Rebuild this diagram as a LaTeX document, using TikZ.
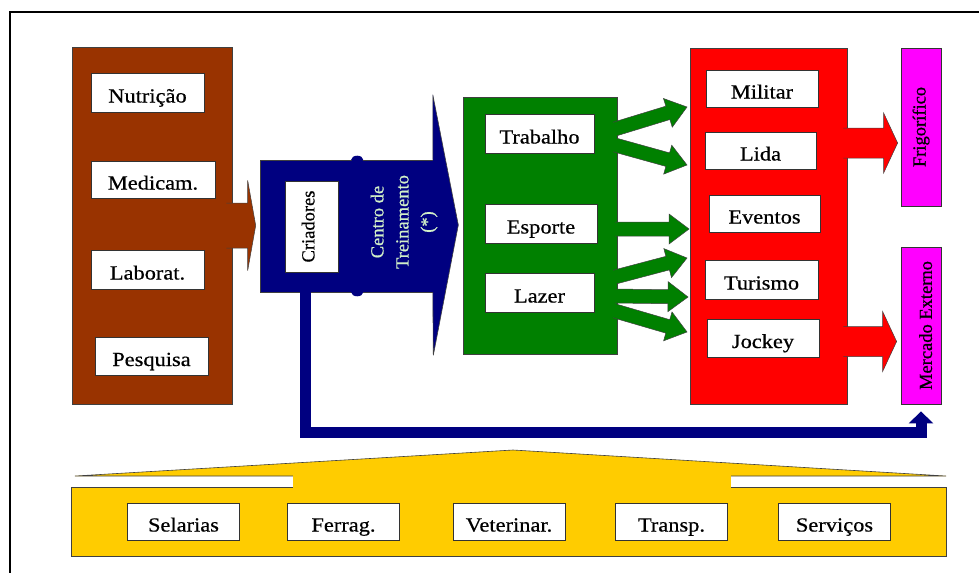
\documentclass[tikz,border=0pt]{standalone}
\usepackage{fontspec}
\setmainfont{Liberation Serif}
\newfontfamily\boxfont[FakeStretch=1.12,FakeBold=0.6]{Liberation Serif}
\newfontfamily\sidefont[FakeBold=0.6]{Liberation Serif}
\usepackage{graphicx}
\usepackage{xcolor}
\usepackage{tikz}
\usetikzlibrary{positioning,arrows.meta,calc}

\definecolor{insumo}{HTML}{993300}
\definecolor{criacao}{HTML}{000080}
\definecolor{preparo}{HTML}{008000}
\definecolor{usos}{HTML}{FF0000}
\definecolor{destino}{HTML}{FF00FF}
\definecolor{apoio}{HTML}{FFCC00}
\definecolor{centrotxt}{HTML}{D2F0C8}

\tikzset{
  panel/.style={draw=black!75, line width=0.6pt, inner sep=0pt},
  item/.style={draw=black!80, fill=white, line width=0.8pt, inner sep=0pt,
    font=\boxfont\fontsize{20pt}{22pt}\selectfont, text height=20pt, text depth=0pt},
  vitem/.style={draw=black!80, line width=0.8pt, inner sep=0pt,
    font=\sidefont\fontsize{18.5pt}{20pt}\selectfont},
}

% block arrow: fill, from, to, half shaft, half head, head length
\newcommand{\fatarrow}[6]{%
  \filldraw[fill=#1, draw=black!75, line width=0.5pt, line join=miter]
    let \p1=(#2), \p2=(#3), \n1={atan2(\y2-\y1,\x2-\x1)}, \n2={veclen(\x2-\x1,\y2-\y1)} in
    ([shift={(\p1)},rotate=\n1]0pt,#4) -- ([shift={(\p1)},rotate=\n1]{\n2-#6},#4)
    -- ([shift={(\p1)},rotate=\n1]{\n2-#6},#5) -- ([shift={(\p1)},rotate=\n1]\n2,0pt)
    -- ([shift={(\p1)},rotate=\n1]{\n2-#6},-#5) -- ([shift={(\p1)},rotate=\n1]{\n2-#6},-#4)
    -- ([shift={(\p1)},rotate=\n1]0pt,-#4);}

\begin{document}
\begin{tikzpicture}[x=1pt, y=-1pt]
\useasboundingbox (0,0) rectangle (979,573);
% frame
\draw[line width=2pt] (979,12) -- (10,12) -- (10,573);

% insumos
\node[panel, fill=insumo, minimum width=160pt, minimum height=357pt] (insumos) at (152,225.5) {};
\node[item, minimum width=113pt, minimum height=39pt] (nutri) at (147.5,92.5) {Nutrição};
\node[item, minimum width=124pt, minimum height=37pt] (medic) at (153,179.5) {Medicam.};
\node[item, minimum width=113pt, minimum height=39pt] (labor) at (147.5,269.5) {Laborat.};
\node[item, minimum width=113pt, minimum height=38pt] (pesq) at (151.5,356) {Pesquisa};

% criadores / centro de treinamento
\node[panel, fill=criacao, minimum width=173pt, minimum height=132pt] (treino) at (346.5,226) {};
\coordinate (ttip) at ($(treino.east)+(25,-1)$);
\filldraw[fill=criacao, draw=black!75, line width=0.6pt] ([xshift=-0.5pt]treino.north east) -- ++(0,-65)
  -- (ttip) -- ($(treino.south east)+(0,63)$) -- ([xshift=-0.5pt]treino.south east);
\fill[criacao] ([xshift=97.5pt]treino.north west) ellipse (6pt and 4pt);
\fill[criacao] ([xshift=97.5pt]treino.south west) ellipse (6pt and 4pt);
\node[vitem, fill=white, minimum width=53pt, minimum height=91pt] (criad) at (311.5,226.5)
  {\rotatebox{90}{Criadores\rule[-7pt]{0pt}{12pt}}};
\node[rotate=90, text=centrotxt, align=center, font=\sidefont\fontsize{18.5pt}{25pt}\selectfont] (centro)
  at (404,222) {Centro de\\Treinamento\\(*)};

% insumos -> criadores
\coordinate (bt) at ([xshift=-4pt]treino.west |- insumos.east);
\fatarrow{insumo}{$(insumos.east)+(-6,0)$}{bt}{22.5pt}{45pt}{8pt}

% feed line to mercado externo
\node[vitem, fill=destino, minimum width=40pt, minimum height=158pt] (frigo) at (921,127)
  {\rotatebox{90}{Frigorífico}};
\node[vitem, fill=destino, minimum width=40pt, minimum height=157pt] (merc) at (921,325.5)
  {\rotatebox{90}{Mercado Externo\rule{0pt}{22pt}}};
\draw[criacao, line width=11pt, -{Triangle[width=24pt,length=12pt]}]
  ([xshift=46pt]treino.south west) |- ([yshift=-28pt]merc.south) -- ([yshift=-7pt]merc.south);

% modalidades
\node[panel, fill=preparo, minimum width=154pt, minimum height=257pt] (work) at (540,225.5) {};
\node[item, minimum width=109pt, minimum height=39pt] (trab) at (539.5,133.5) {Trabalho};
\node[item, minimum width=112pt, minimum height=39pt] (esp) at (541,223.5) {Esporte};
\node[item, minimum width=109pt, minimum height=39pt] (lazer) at (539.5,292.5) {Lazer};

% usos
\node[panel, fill=usos, minimum width=157pt, minimum height=356pt] (uso) at (768.5,226) {};
\node[item, minimum width=112pt, minimum height=37pt] (milit) at (762,88.5) {Militar};
\node[item, minimum width=111pt, minimum height=37pt] (lida) at (760.5,150.5) {Lida};
\node[item, minimum width=111pt, minimum height=37pt] (event) at (764.5,213.5) {Eventos};
\node[item, minimum width=113pt, minimum height=39pt] (turis) at (761.5,279.5) {Turismo};
\node[item, minimum width=112pt, minimum height=38pt] (jock) at (763,338) {Jockey};

% green arrow ends
\coordinate (g1) at (615,129);   \coordinate (h1) at (687,107);
\coordinate (g2) at (615,145);   \coordinate (h2) at (687,165);
\coordinate (g3) at (615,229);   \coordinate (h3) at (689,229);
\coordinate (g4) at (615,277);   \coordinate (h4) at (687,258);
\coordinate (g5) at (615,296);   \coordinate (h5) at (688,297);
\coordinate (g6) at (615,311);   \coordinate (h6) at (687,332);
\foreach \a/\b in {g1/h1,g2/h2,g3/h3,g4/h4,g5/h5,g6/h6}{
  \fatarrow{preparo}{\a}{\b}{7pt}{15pt}{20pt}
}

% usos -> destinos
\fatarrow{usos}{$(uso.east)+(-4,-83)$}{$(frigo.west)+(-3,16)$}{15pt}{30pt}{14pt}
\fatarrow{usos}{$(uso.east)+(-4,115.5)$}{$(merc.west)+(-4,16)$}{15pt}{30pt}{14pt}

% apoio
\filldraw[fill=apoio, draw=black!75, line width=0.6pt] (75,476) -- (513,450) -- (946,476) -- cycle;
\node[panel, fill=apoio, minimum width=875pt, minimum height=69pt] (apoio) at (508.5,521.5) {};
\fill[apoio] (293,474) rectangle (731,489);
\foreach \name/\x/\lbl in {sel/183.5/Selarias, ferr/343.5/Ferrag., vet/509/Veterinar.,
    transp/671.5/Transp., serv/834.5/Serviços}
  \node[item, minimum width=112pt, minimum height=37pt] (\name) at (\x,521.5) {\lbl};
\end{tikzpicture}
\end{document}
